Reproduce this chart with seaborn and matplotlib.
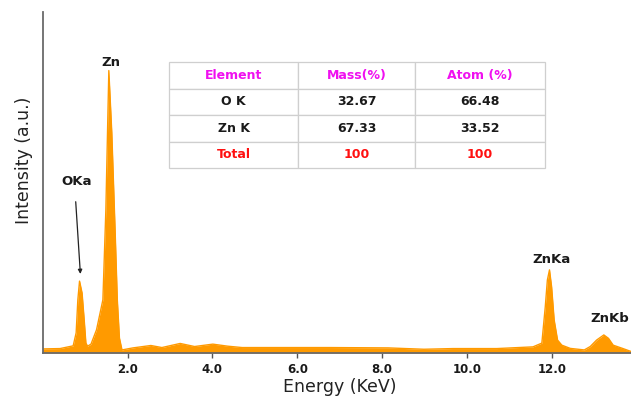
import matplotlib
matplotlib.use("Agg")
import matplotlib.pyplot as plt
import seaborn as sns
import pandas as pd

# EDS spectrum of ZnO: energy (keV) and intensity (a.u.)
energy = [0.00, 0.41, 0.72, 0.79, 0.83, 0.87, 0.93, 0.98, 1.02, 1.06,
          1.14, 1.27, 1.42, 1.49, 1.56, 1.63, 1.71, 1.76, 1.81,
          1.87, 2.13, 2.55, 2.68, 2.81, 3.24, 3.58, 4.01, 4.36, 4.70,
          6.77, 8.14, 8.98, 9.67, 10.70, 11.55, 11.76, 11.84, 11.89, 11.94,
          11.99, 12.05, 12.13, 12.23, 12.43, 12.76, 12.90, 13.05, 13.22, 13.33,
          13.44, 13.66, 13.86]
intensity = [1.2, 1.3, 2.1, 5.9, 15.6, 21.1, 17.6, 9.7, 2.9, 2.0,
             2.6, 6.8, 15.6, 42.0, 82.9, 64.6, 35.2, 15.6, 4.4,
             0.9, 1.5, 2.2, 1.9, 1.6, 2.8, 1.9, 2.6, 2.0, 1.6,
             1.6, 1.5, 1.1, 1.3, 1.3, 1.8, 2.9, 13.5, 21.4, 24.4,
             19.4, 9.7, 3.8, 2.3, 1.35, 0.9, 1.9, 3.8, 5.3, 4.3,
             2.3, 1.35, 0.45]

# Peak labels: text, position (keV, a.u.)
peak_labels = ["OKa", "Zn", "ZnKa", "ZnKb"]
peak_x = [0.79, 1.61, 11.99, 13.37]
peak_y = [50.2, 85.4, 27.3, 10.0]

x_ticks = [2.0, 4.0, 6.0, 8.0, 10.0, 12.0]
x_tick_labels = ["2.0", "4.0", "6.0", "8.0", "10.0", "12.0"]

# Composition table
table_header = ["Element", "Mass(%)", "Atom (%)"]
table_rows = [["O K", "32.67", "66.48"],
              ["Zn K", "67.33", "33.52"],
              ["Total", "100", "100"]]

ORANGE = "#FF9A00"
MAGENTA = "#F010F0"
RED = "#FF1010"

sns.set_theme(style="white")
plt.rcParams["font.family"] = ["DejaVu Sans"]

W, H = 631, 399
fig = plt.figure(figsize=(W / 100, H / 100), dpi=100)
ax_l, ax_r, ax_t, ax_b = 42.6, 631.0, 12.3, 353.0
ax = fig.add_axes([ax_l / W, 1 - ax_b / H, (ax_r - ax_l) / W, (ax_b - ax_t) / H])

df = pd.DataFrame({"Energy": energy, "Intensity": intensity})
sns.lineplot(data=df, x="Energy", y="Intensity", color=ORANGE, lw=1.0, ax=ax)
ax.fill_between(df["Energy"], 0, df["Intensity"], color=ORANGE, lw=0)

ax.set_xlim(0, 13.86)
ax.set_ylim(0, 100)

for side in ("top", "right"):
    ax.spines[side].set_visible(False)
for side in ("left", "bottom"):
    ax.spines[side].set_color("#6a6a6a")
    ax.spines[side].set_linewidth(1.3)
    ax.spines[side].set_zorder(5)

ax.set_yticks([])
ax.set_xticks(x_ticks)
ax.set_xticklabels(x_tick_labels, fontsize=8.5, fontweight="bold", color="#1a1a1a")
ax.tick_params(axis="x", direction="out", length=3.5, width=1.0, color="#555555",
               pad=4, bottom=True)

ax.set_xlabel("Energy (KeV)", fontsize=12.5, color="#222222")
ax.set_ylabel("Intensity (a.u.)", fontsize=12.5, color="#222222")
ax.xaxis.set_label_coords(0.505, -0.074)
ax.yaxis.set_label_coords(-0.016, 0.566)

for txt, px, py in zip(peak_labels, peak_x, peak_y):
    ax.text(px, py, txt, fontsize=9.5, fontweight="bold", color="#1a1a1a",
            ha="center", va="center")

# arrow pointing at the O Ka peak
ax.annotate("", xy=(0.89, 23.2), xytext=(0.78, 44.4),
            arrowprops=dict(arrowstyle="-|>", color="#222222", lw=0.9,
                            mutation_scale=6, shrinkA=0, shrinkB=0))

# composition table
t_l, t_r, t_t, t_b = 169, 545, 62.3, 168
tax = fig.add_axes([t_l / W, 1 - t_b / H, (t_r - t_l) / W, (t_b - t_t) / H])
tax.set_axis_off()
col_w = [129, 117, 130]
total_w = sum(col_w)
col_w = [c / total_w for c in col_w]
tbl = tax.table(cellText=[table_header] + table_rows, colWidths=col_w,
                cellLoc="center", bbox=[0, 0, 1, 1])
tbl.auto_set_font_size(False)
for (r, c), cell in tbl.get_celld().items():
    cell.set_edgecolor("#cfcfcf")
    cell.set_linewidth(0.9)
    cell.set_facecolor("white")
    t = cell.get_text()
    t.set_fontsize(9)
    t.set_fontweight("bold")
    if r == 0:
        t.set_color(MAGENTA)
    elif r == len(table_rows):
        t.set_color(RED)
    else:
        t.set_color("#1a1a1a")

fig.savefig("out.png", dpi=100)
